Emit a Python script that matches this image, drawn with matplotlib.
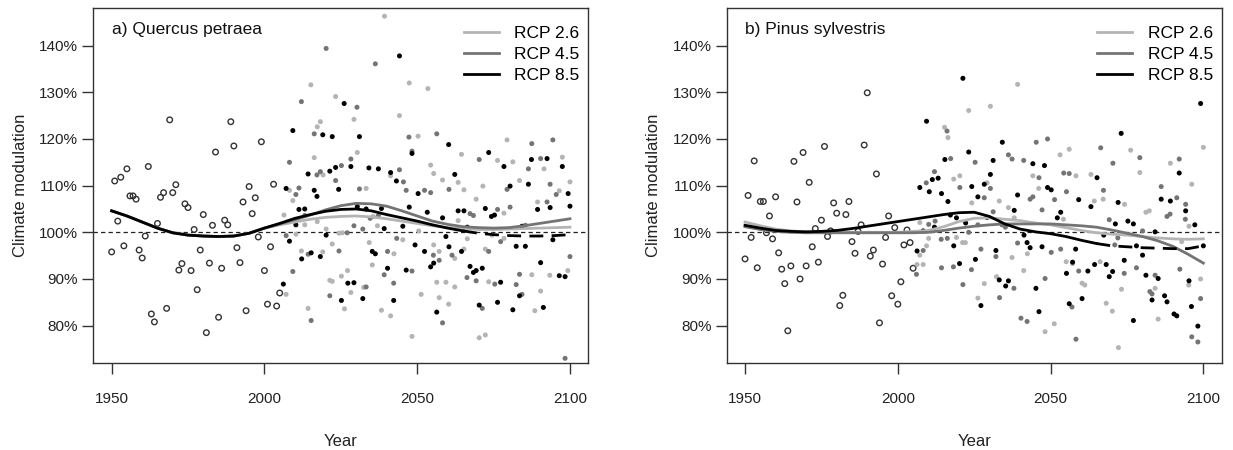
import numpy as np
import matplotlib
matplotlib.use("Agg")
from matplotlib import pyplot as plt

plt.rcParams['font.family'] = ['Liberation Sans', 'DejaVu Sans']

# ---------------- data ----------------
hist_years = list(range(1950, 2006))

# a) Quercus petraea
qp_hist = [95.8, 111.0, 102.4, 111.8, 97.1, 113.6, 107.8, 107.8, 107.1, 96.2,
           94.5, 99.2, 114.1, 82.5, 80.8, 101.9, 107.5, 108.5, 83.7, 124.1,
           108.5, 110.2, 91.9, 93.3, 106.1, 105.3, 91.8, 100.6, 87.7, 96.2,
           103.8, 78.5, 93.4, 101.5, 117.2, 81.8, 92.3, 102.6, 101.6, 123.7,
           118.5, 96.7, 93.5, 106.5, 83.2, 109.8, 104.0, 107.4, 99.0, 119.4,
           91.8, 84.6, 96.9, 110.3, 84.2, 87.0]

qp_rcp26 = [(2015.2, 131.6), (2047.4, 132.0), (2023.3, 129.1), (2029.3, 124.2), (2044.2, 125.0),
            (2018.3, 123.7), (2017.3, 122.6), (2030.4, 117.1), (2016.3, 116.0), (2019.2, 112.3),
            (2041.3, 112.1), (2033.3, 109.4), (2008.2, 109.0), (2009.3, 106.8), (2006.4, 103.7),
            (2013.2, 101.6), (2017.3, 102.3), (2035.6, 103.4), (2037.0, 101.4), (2045.3, 98.4),
            (2020.2, 100.7), (2025.5, 99.9), (2024.4, 99.8), (2010.3, 99.6), (2022.2, 97.5),
            (2034.3, 97.8), (2012.1, 96.0), (2019.1, 95.8), (2042.4, 95.4), (2035.3, 93.0),
            (2022.2, 89.5), (2025.2, 90.6), (2027.2, 91.8), (2021.4, 89.7), (2032.5, 88.2),
            (2007.1, 86.7), (2028.3, 87.1), (2014.3, 83.7), (2026.2, 83.6), (2038.3, 83.3),
            (2041.3, 82.1), (2048.3, 77.7), (2039.3, 146.3),
            (2053.5, 130.8), (2050.3, 120.6), (2054.4, 114.4), (2055.4, 112.6), (2058.3, 111.2),
            (2064.5, 116.7), (2063.4, 110.7), (2065.3, 109.1), (2076.3, 115.4), (2079.4, 119.8),
            (2081.3, 115.1), (2069.3, 107.1), (2071.5, 109.9), (2083.5, 111.1), (2091.5, 113.6),
            (2097.5, 116.1), (2096.5, 108.9), (2100.0, 110.8), (2078.4, 104.1), (2089.4, 106.5),
            (2063.4, 102.5), (2050.5, 100.3), (2055.4, 97.3), (2062.3, 94.4), (2065.3, 96.4),
            (2057.2, 95.9), (2066.4, 98.6), (2072.3, 96.4), (2074.5, 99.4), (2078.4, 98.7),
            (2073.4, 89.4), (2087.5, 90.9), (2093.4, 90.8), (2099.3, 91.8), (2056.4, 89.3),
            (2059.4, 89.3), (2062.3, 88.3), (2051.3, 86.7), (2057.2, 86.0), (2060.3, 84.6),
            (2088.5, 83.2), (2090.4, 87.4), (2070.3, 77.4), (2072.3, 78.0)]

qp_rcp45 = [(2020.2, 139.4), (2036.3, 136.1), (2012.1, 128.0), (2030.3, 126.8), (2016.3, 121.1),
            (2047.3, 120.4), (2048.3, 117.4), (2008.2, 115.0), (2028.3, 115.7), (2017.2, 112.3),
            (2018.3, 113.0), (2025.2, 114.3), (2044.2, 113.4), (2045.5, 110.8), (2023.3, 111.1),
            (2011.3, 109.5), (2010.3, 108.1), (2031.1, 109.3), (2046.4, 109.0), (2013.2, 103.6),
            (2034.6, 103.0), (2037.3, 103.6), (2029.3, 101.4), (2032.2, 100.7), (2027.1, 99.9),
            (2007.1, 99.3), (2043.3, 98.7), (2014.3, 95.3), (2024.4, 96.0), (2040.3, 95.9),
            (2039.2, 90.9), (2048.3, 91.7), (2009.3, 91.6), (2033.3, 88.3), (2042.3, 89.1),
            (2021.4, 86.4), (2015.3, 81.1),
            (2056.4, 121.1), (2060.4, 109.2), (2052.4, 109.0), (2054.4, 108.5), (2070.3, 115.6),
            (2079.4, 109.2), (2086.4, 113.6), (2087.5, 119.0), (2090.4, 115.8), (2094.4, 119.8),
            (2093.5, 110.3), (2095.5, 108.1), (2067.3, 104.0), (2068.4, 103.6), (2076.3, 104.9),
            (2080.4, 105.4), (2092.5, 106.5), (2085.4, 101.5), (2055.3, 95.1), (2073.4, 95.9),
            (2077.3, 98.0), (2061.4, 95.1), (2057.2, 94.0), (2066.3, 90.3), (2069.3, 89.6),
            (2075.4, 88.9), (2082.4, 88.8), (2083.5, 91.0), (2100.0, 94.8), (2058.3, 80.6),
            (2071.3, 83.7), (2084.3, 86.7), (2098.4, 73.0)]

qp_rcp85 = [(2044.2, 137.8), (2026.1, 127.6), (2009.3, 121.8), (2019.1, 120.9), (2022.2, 120.5),
            (2031.1, 120.5), (2048.3, 116.9), (2014.3, 112.5), (2021.4, 113.1), (2023.3, 113.9),
            (2028.3, 114.1), (2034.2, 113.8), (2037.3, 113.6), (2041.3, 112.8), (2043.2, 111.0),
            (2007.1, 109.4), (2016.3, 109.0), (2017.2, 107.7), (2024.3, 109.2), (2011.3, 104.9),
            (2013.2, 105.0), (2010.3, 101.6), (2030.4, 105.5), (2033.3, 105.0), (2038.3, 105.1),
            (2039.2, 100.8), (2045.3, 101.3), (2047.4, 105.4), (2020.2, 99.4), (2008.2, 98.1),
            (2049.3, 97.3), (2015.3, 95.6), (2012.2, 94.3), (2018.3, 94.8), (2035.3, 95.9),
            (2036.3, 95.4), (2040.3, 92.3), (2046.4, 91.9), (2027.3, 89.1), (2029.3, 89.2),
            (2006.2, 88.9), (2025.2, 85.4), (2032.2, 85.8), (2042.3, 85.4),
            (2060.3, 118.8), (2062.3, 112.4), (2050.3, 108.3), (2073.4, 117.1), (2078.4, 114.1),
            (2080.4, 109.9), (2086.4, 110.3), (2087.4, 115.6), (2092.5, 115.8), (2097.5, 114.1),
            (2099.4, 108.3), (2063.4, 104.6), (2065.3, 104.6), (2072.3, 105.1), (2074.3, 103.4),
            (2075.3, 103.7), (2089.4, 104.9), (2093.5, 105.3), (2100.0, 105.6), (2053.3, 104.3),
            (2058.3, 103.1), (2066.4, 101.1), (2084.3, 101.3), (2059.4, 99.1), (2060.4, 96.9),
            (2064.5, 95.9), (2052.4, 95.9), (2082.4, 97.0), (2085.4, 97.0), (2094.4, 98.4),
            (2054.4, 92.6), (2055.4, 93.4), (2067.3, 92.7), (2068.4, 91.4), (2069.3, 91.8),
            (2071.3, 92.3), (2077.3, 89.3), (2090.4, 93.5), (2096.5, 90.7), (2098.4, 90.5),
            (2056.4, 82.9), (2070.3, 84.4), (2076.3, 85.0), (2081.3, 83.4), (2083.5, 86.4),
            (2091.3, 83.9)]

# smoothed curves, read every 5 years (1950..2100)
curve_years = list(range(1950, 2101, 5))
qp_fit26 = [104.6, 103.5, 102.2, 100.9, 99.9, 99.4, 99.2, 99.1, 99.2, 99.8, 100.9,
            101.6, 102.2, 102.8, 103.2, 103.4, 103.5, 103.3, 102.9, 102.4, 101.9,
            101.4, 101.0, 100.8, 100.6, 100.6, 100.7, 100.8, 100.9, 101.0, 101.1]
qp_fit45 = [104.6, 103.5, 102.2, 100.9, 99.9, 99.4, 99.2, 99.1, 99.2, 99.8, 100.9,
            101.8, 102.7, 103.7, 104.8, 105.7, 106.2, 106.1, 105.6, 104.6, 103.5,
            102.4, 101.7, 101.2, 101.0, 100.9, 101.0, 101.4, 101.9, 102.4, 102.9]
qp_fit85 = [104.6, 103.5, 102.2, 100.9, 99.9, 99.4, 99.2, 99.1, 99.2, 99.8, 100.9,
            101.9, 103.0, 103.8, 104.5, 104.9, 105.0, 104.6, 103.8, 103.1, 102.4,
            101.6, 100.9, 100.3, 99.8, 99.5, 99.3, 99.2, 99.2, 99.3, 99.5]

# b) Pinus sylvestris
ps_hist = [94.3, 107.9, 98.9, 115.3, 92.4, 106.6, 106.6, 99.9, 103.5, 98.6,
           107.6, 95.6, 92.1, 89.0, 78.9, 92.8, 115.2, 106.5, 90.0, 117.1,
           92.8, 110.7, 96.9, 100.8, 93.6, 102.6, 118.4, 99.1, 100.3, 106.3,
           104.1, 84.3, 86.5, 103.8, 106.6, 98.0, 95.5, 100.2, 101.6, 118.7,
           129.9, 94.9, 96.2, 112.5, 80.6, 93.2, 98.9, 103.5, 86.4, 101.0,
           84.6, 89.4, 97.3, 100.5, 97.8, 92.3]

ps_rcp26 = [(2039.2, 131.7), (2030.3, 127.0), (2023.2, 126.1), (2015.3, 122.5), (2016.4, 120.3),
            (2018.3, 111.4), (2020.3, 112.1), (2044.2, 112.1), (2029.2, 110.6), (2046.1, 109.4),
            (2024.2, 106.3), (2033.2, 106.7), (2036.2, 105.3), (2007.2, 102.1), (2038.1, 103.1),
            (2010.1, 98.7), (2019.2, 98.9), (2021.2, 97.8), (2022.1, 97.8), (2009.4, 97.1),
            (2007.2, 95.1), (2006.3, 93.1), (2008.3, 93.1), (2032.3, 90.5), (2037.4, 94.6),
            (2041.2, 91.8), (2028.3, 89.0), (2026.2, 85.9), (2048.2, 78.7), (2042.4, 95.4),
            (2100.0, 118.2), (2076.2, 117.6), (2056.1, 117.8), (2053.1, 116.6), (2089.2, 114.8),
            (2079.2, 112.8), (2058.3, 112.1), (2063.2, 112.4), (2096.2, 110.3), (2064.3, 106.7),
            (2067.2, 107.1), (2074.2, 106.0), (2095.3, 101.3), (2054.2, 102.8), (2081.2, 104.3),
            (2082.3, 104.6), (2092.9, 98.0), (2055.1, 93.7), (2057.2, 93.3), (2066.2, 93.7),
            (2099.1, 90.0), (2095.2, 88.7), (2060.3, 89.1), (2061.2, 88.7), (2073.2, 87.8),
            (2084.2, 88.0), (2068.2, 84.8), (2070.2, 83.1), (2085.2, 81.4), (2072.2, 75.3),
            (2051.2, 80.4)]

ps_rcp45 = [(2016.1, 121.7), (2045.3, 119.3), (2049.0, 120.0), (2017.3, 115.8), (2025.3, 115.0),
            (2036.2, 116.6), (2037.4, 115.7), (2041.2, 115.4), (2012.0, 113.0), (2009.3, 110.6),
            (2046.2, 111.7), (2020.3, 109.6), (2030.3, 109.4), (2028.3, 107.4), (2043.3, 107.1),
            (2044.2, 107.6), (2047.2, 104.8), (2031.2, 104.4), (2012.2, 102.4), (2010.1, 101.7),
            (2034.1, 101.6), (2035.2, 101.1), (2023.2, 100.0), (2026.2, 101.6), (2014.2, 98.5),
            (2016.2, 98.7), (2008.3, 96.1), (2027.2, 96.4), (2032.1, 94.8), (2039.2, 97.7),
            (2014.3, 92.4), (2018.2, 92.6), (2006.1, 91.0), (2024.1, 92.0), (2038.0, 88.0),
            (2048.2, 90.1), (2021.3, 88.8), (2033.3, 86.0), (2040.3, 81.6), (2042.3, 80.9),
            (2066.4, 118.1), (2079.2, 116.0), (2092.1, 115.7), (2070.4, 114.8), (2054.3, 112.7),
            (2056.1, 112.6), (2055.2, 108.7), (2067.3, 109.0), (2086.2, 109.8), (2051.3, 107.0),
            (2091.3, 107.4), (2094.2, 106.0), (2069.2, 102.7), (2088.1, 103.4), (2089.1, 103.9),
            (2094.1, 102.8), (2072.0, 98.8), (2080.1, 100.3), (2050.2, 95.7), (2053.3, 96.4),
            (2071.0, 97.3), (2059.2, 91.7), (2074.1, 91.2), (2078.1, 92.4), (2084.2, 90.8),
            (2092.3, 92.1), (2082.5, 87.3), (2083.2, 86.8), (2099.1, 85.8), (2057.0, 84.0),
            (2096.2, 77.6), (2098.2, 76.5), (2058.3, 77.1)]

ps_rcp85 = [(2021.3, 133.0), (2009.4, 123.8), (2034.2, 119.3), (2023.2, 117.2), (2015.4, 115.6),
            (2031.2, 115.4), (2044.2, 114.7), (2048.0, 114.3), (2011.3, 111.3), (2013.2, 111.6),
            (2030.3, 112.4), (2007.2, 109.6), (2010.3, 108.7), (2014.3, 108.3), (2024.2, 109.8),
            (2028.3, 110.3), (2049.0, 109.6), (2026.2, 107.6), (2016.4, 106.6), (2039.2, 108.0),
            (2038.1, 104.7), (2019.2, 103.1), (2017.2, 103.7), (2022.2, 102.0), (2012.0, 101.1),
            (2008.3, 100.3), (2029.2, 103.2), (2018.3, 97.1), (2006.3, 96.0), (2032.1, 96.1),
            (2041.3, 99.4), (2042.3, 97.8), (2043.3, 96.7), (2047.2, 96.9), (2020.2, 93.3),
            (2025.4, 94.2), (2033.2, 89.8), (2036.2, 89.6), (2035.3, 88.5), (2045.2, 88.0),
            (2027.2, 84.3), (2046.2, 83.0),
            (2099.1, 127.6), (2073.1, 121.2), (2065.2, 111.7), (2092.1, 112.7), (2050.2, 109.1),
            (2059.2, 107.0), (2063.2, 105.5), (2072.1, 106.4), (2086.2, 107.1), (2089.2, 106.7),
            (2094.2, 104.6), (2097.2, 101.6), (2052.2, 103.1), (2053.3, 104.3), (2071.2, 101.8),
            (2075.3, 102.4), (2077.1, 101.8), (2067.4, 99.4), (2084.2, 100.1), (2058.2, 96.4),
            (2078.1, 97.1), (2080.1, 95.1), (2100.0, 97.1), (2055.2, 91.2), (2057.2, 93.6),
            (2062.2, 91.7), (2064.4, 93.1), (2068.2, 93.1), (2069.2, 90.5), (2070.3, 91.6),
            (2074.1, 94.0), (2081.2, 90.8), (2085.2, 90.1), (2095.3, 89.6), (2083.2, 85.5),
            (2087.3, 86.4), (2088.1, 85.1), (2056.1, 84.7), (2060.3, 85.8), (2090.4, 82.5),
            (2091.3, 82.1), (2096.1, 84.1), (2077.1, 81.1), (2098.2, 79.9)]

ps_fit26 = [102.2, 101.4, 100.7, 100.3, 100.1, 100.0, 100.0, 100.0, 100.0, 100.0, 100.0,
            100.2, 100.4, 101.2, 102.3, 103.0, 103.1, 102.8, 102.5, 102.0, 101.6,
            101.0, 100.4, 99.9, 99.6, 99.4, 99.1, 98.8, 98.6, 98.5, 98.6]
ps_fit45 = [101.2, 100.6, 100.2, 100.0, 99.9, 99.9, 99.9, 99.9, 99.9, 99.9, 99.9,
            99.9, 100.0, 100.4, 100.9, 101.3, 101.6, 101.8, 101.8, 101.8, 101.8,
            101.6, 101.4, 101.1, 100.5, 99.8, 99.1, 98.2, 97.0, 95.3, 93.4]
ps_fit85 = [101.5, 100.9, 100.4, 100.2, 100.1, 100.2, 100.4, 100.8, 101.3, 101.8, 102.3,
            102.8, 103.3, 103.8, 104.2, 104.3, 103.4, 101.8, 100.7, 100.1, 99.7,
            99.1, 98.3, 97.6, 97.1, 96.9, 96.7, 96.6, 96.5, 96.5, 97.1]

titles = ["a) Quercus petraea", "b) Pinus sylvestris"]
legend_labels = ["RCP 2.6", "RCP 4.5", "RCP 8.5"]
yticks = [80, 90, 100, 110, 120, 130, 140]
xticks = [1950, 2000, 2050, 2100]
dash_from = 2065

c_light = '#b4b4b4'
c_mid = '#747474'
c_dark = '#000000'


def draw_panel(ax, title, hist, rcps, fits):
    ax.axhline(100, color='#222222', lw=0.9, ls=(0, (3.5, 2.5)), zorder=1)
    ax.scatter(hist_years, hist, s=16, facecolors='none', edgecolors='#333333',
               linewidths=1.0, zorder=2)
    for pts, col in zip(rcps, [c_light, c_mid, c_dark]):
        pts = np.array(pts)
        ax.scatter(pts[:, 0], pts[:, 1], s=13, color=col, edgecolors='none', zorder=3)

    cy = np.array(curve_years)
    ax.plot(cy, fits[0], color=c_light, lw=2.0, zorder=4)
    ax.plot(cy, fits[1], color=c_mid, lw=2.0, zorder=4)
    f85 = np.array(fits[2])
    solid = cy <= dash_from
    dashed = cy >= dash_from
    ax.plot(cy[solid], f85[solid], color=c_dark, lw=2.0, zorder=5)
    ax.plot(cy[dashed], f85[dashed], color=c_dark, lw=2.0, ls=(0, (5, 3)), zorder=5)

    ax.set_xlim(1944, 2106)
    ax.set_ylim(72.06, 148.0)
    ax.set_xticks(xticks)
    ax.set_yticks(yticks)
    ax.set_yticklabels([f"{v}%" for v in yticks])
    ax.tick_params(axis='both', direction='out', length=8, width=1.0,
                   colors='#333333', labelsize=11, labelcolor='#222222')
    ax.tick_params(axis='x', pad=13)
    ax.tick_params(axis='y', pad=3)
    for sp in ax.spines.values():
        sp.set_color('#333333')
        sp.set_linewidth(1.0)
    ax.set_xlabel("Year", fontsize=12, color='#222222', labelpad=20)
    ax.set_ylabel("Climate modulation", fontsize=12, color='#222222', labelpad=8)
    ax.text(0.037, 0.939, title, transform=ax.transAxes, fontsize=12.5,
            va='center', ha='left', color='#111111')

    handles = [plt.Line2D([], [], color=c, lw=2.0) for c in (c_light, c_mid, c_dark)]
    ax.legend(handles, legend_labels, loc='upper right', bbox_to_anchor=(1.0, 0.975),
              frameon=False, fontsize=12.5, handlelength=2.0, handletextpad=0.9,
              labelspacing=0.35, borderaxespad=0.1)


fig = plt.figure(figsize=(12.33, 4.5), dpi=100)
ax1 = fig.add_axes([93.3 / 1233, 87.3 / 450, 495 / 1233, 354.4 / 450])
ax2 = fig.add_axes([726.7 / 1233, 87.3 / 450, 495 / 1233, 354.4 / 450])

draw_panel(ax1, titles[0], qp_hist, [qp_rcp26, qp_rcp45, qp_rcp85],
           [qp_fit26, qp_fit45, qp_fit85])
draw_panel(ax2, titles[1], ps_hist, [ps_rcp26, ps_rcp45, ps_rcp85],
           [ps_fit26, ps_fit45, ps_fit85])

fig.savefig("out.png", dpi=100)
